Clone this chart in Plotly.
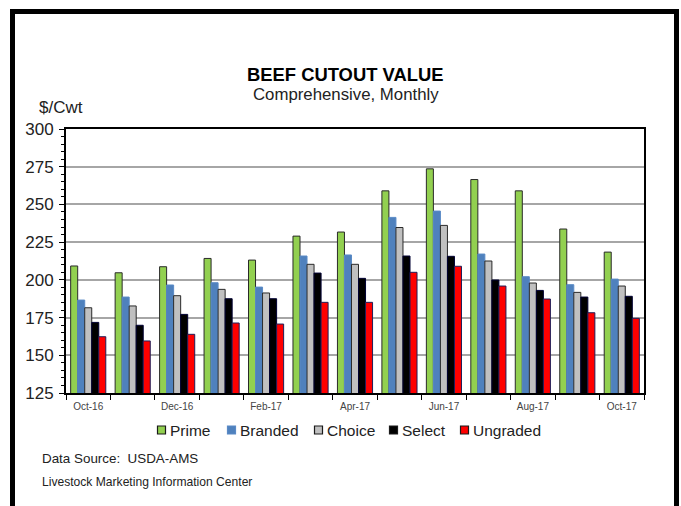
import plotly.graph_objects as go

months = ["Oct-16", "Nov-16", "Dec-16", "Jan-17", "Feb-17", "Mar-17", "Apr-17",
          "May-17", "Jun-17", "Jul-17", "Aug-17", "Sep-17", "Oct-17"]
tick_labels = ["Oct-16", "", "Dec-16", "", "Feb-17", "", "Apr-17",
               "", "Jun-17", "", "Aug-17", "", "Oct-17"]

prime    = [209.2, 204.7, 208.7, 214.2, 213.1, 229.0, 231.7, 259.0, 273.6, 266.5, 259.0, 233.7, 218.4]
branded  = [186.6, 188.6, 196.6, 198.1, 195.2, 215.8, 216.5, 241.4, 245.6, 217.1, 202.1, 196.8, 200.5]
choice   = [181.5, 182.7, 189.5, 193.7, 191.3, 210.3, 210.3, 234.7, 236.1, 212.5, 197.9, 191.7, 195.9]
select   = [171.8, 169.9, 177.1, 187.5, 187.5, 204.5, 201.0, 215.8, 215.6, 199.9, 193.0, 188.6, 189.1]
ungraded = [162.3, 159.5, 163.9, 171.4, 170.7, 185.1, 185.1, 205.0, 209.0, 195.9, 187.3, 178.2, 174.5]

series = [
    ("Prime", prime, "#92D050", "#2A2A2A"),
    ("Branded", branded, "#4F81BD", "#5A8AC6"),
    ("Choice", choice, "#C0C0C0", "#2A2A2A"),
    ("Select", select, "#000000", "#000033"),
    ("Ungraded", ungraded, "#FF0000", "#1F1F5A"),
]

FONT = "Liberation Sans, Arial, sans-serif"
TXT = "#222222"

# plot area in pixels
L, R, T, B = 66, 644, 129, 393
PW, PH = R - L, B - T


def px(x):
    return (x - L) / PW


def py(y):
    return (B - y) / PH


fig = go.Figure()
for name, vals, color, lc in series:
    fig.add_trace(go.Bar(
        x=months, y=vals, name=name,
        marker=dict(color=color, line=dict(color=lc, width=1)),
    ))

fig.update_layout(
    width=681, height=506,
    margin=dict(l=L, r=681 - R, t=T, b=506 - B),
    paper_bgcolor="white", plot_bgcolor="white",
    barmode="group", bargap=0.21, bargroupgap=0,
    showlegend=False,
    font=dict(family=FONT, color=TXT),
)

fig.update_xaxes(
    type="category", tickvals=months, ticktext=tick_labels, tickson="boundaries",
    ticks="outside", ticklen=5, tickwidth=1, tickcolor="#000000",
    tickfont=dict(family=FONT, size=10, color="#444444"),
    ticklabelstandoff=3,
    showline=True, linecolor="#000000", linewidth=2, mirror=True,
    showgrid=False, range=[-0.5, 12.5],
)
fig.update_yaxes(
    range=[125, 300], tick0=125, dtick=25,
    ticks="outside", ticklen=5, tickwidth=1, tickcolor="#000000",
    minor=dict(dtick=5, ticks="outside", ticklen=3, tickcolor="#000000", showgrid=False),
    tickfont=dict(family=FONT, size=17, color=TXT),
    ticklabelstandoff=2,
    showline=True, linecolor="#000000", linewidth=2, mirror=True,
    showgrid=True, gridcolor="#A6A6A6", gridwidth=1.5,
    zeroline=False,
)

# Title / subtitle / unit label
fig.add_annotation(text="<b>BEEF CUTOUT VALUE</b>", xref="paper", yref="paper",
                   x=px(345), y=py(74), xanchor="center", yanchor="middle",
                   showarrow=False, font=dict(family=FONT, size=18.4, color="#000000"))
fig.add_annotation(text="Comprehensive, Monthly", xref="paper", yref="paper",
                   x=px(346), y=py(95), xanchor="center", yanchor="middle",
                   showarrow=False, font=dict(family=FONT, size=16.8, color=TXT))
fig.add_annotation(text="$/Cwt", xref="paper", yref="paper",
                   x=px(37), y=py(108), xanchor="left", yanchor="middle",
                   showarrow=False, font=dict(family=FONT, size=17, color=TXT))
fig.add_annotation(text="Data Source:  USDA-AMS", xref="paper", yref="paper",
                   x=px(40), y=py(458), xanchor="left", yanchor="middle",
                   showarrow=False, font=dict(family=FONT, size=13.4, color=TXT))
fig.add_annotation(text="Livestock Marketing Information Center", xref="paper", yref="paper",
                   x=px(40), y=py(482), xanchor="left", yanchor="middle",
                   showarrow=False, font=dict(family=FONT, size=12.1, color=TXT))

# Custom legend (symbol left edge positions in pixels)
legend_x = [157, 227, 314, 389, 460]
legend_y = 430
for (name, vals, color, lc), lx in zip(series, legend_x):
    fig.add_shape(type="rect", xref="paper", yref="paper",
                  x0=px(lx + 0.5), x1=px(lx + 8.5), y0=py(legend_y + 4), y1=py(legend_y - 4),
                  line=dict(color="#1A1A1A" if name != "Branded" else "#5A8AC6", width=1.2),
                  fillcolor=color)
    fig.add_annotation(text=name, xref="paper", yref="paper",
                       x=px(lx + 11), y=py(legend_y), xanchor="left", yanchor="middle",
                       showarrow=False, font=dict(family=FONT, size=15.5, color=TXT))

# Outer frame
fig.add_shape(type="rect", xref="paper", yref="paper",
              x0=px(12.5), x1=px(676.5), y0=py(540), y1=py(11.5),
              line=dict(color="#000000", width=5), fillcolor="rgba(0,0,0,0)")

fig.write_html("out.html")
